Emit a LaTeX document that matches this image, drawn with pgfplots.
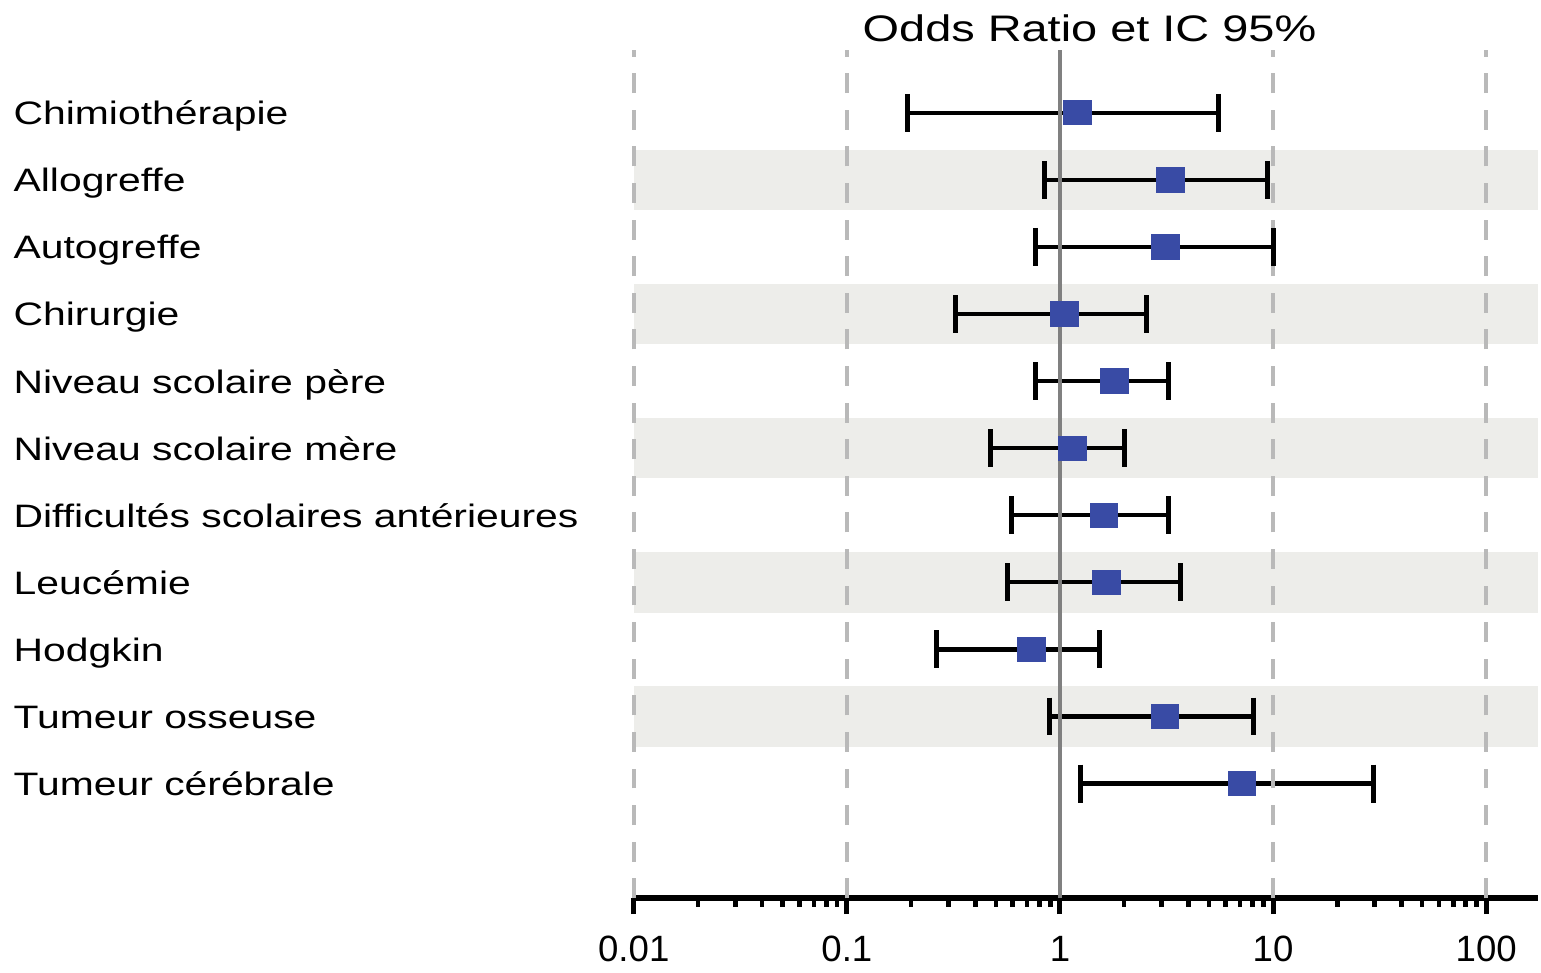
\documentclass[border=0pt]{standalone}
\usepackage{fontspec}
\setmainfont{Liberation Sans}
\newfontfamily\rowfont[FakeStretch=1.26]{Liberation Sans}
\newfontfamily\titlefont[FakeStretch=1.27]{Liberation Sans}
\usepackage{pgfplots}
\pgfplotsset{compat=1.18}
\definecolor{orblue}{RGB}{57,75,165}
\definecolor{bandgray}{RGB}{237,237,234}
\definecolor{dashgray}{RGB}{185,185,185}
\definecolor{refgray}{RGB}{128,128,128}

% odds ratio and 95% CI, row 1 = top
\pgfplotstableread{
row lo  or   hi
1  0.193 1.21 5.57
2  0.85  3.31 9.4
3  0.765 3.14 10.0
4  0.323 1.05 2.54
5  0.767 1.80 3.22
6  0.474 1.14 2.0
7  0.594 1.61 3.22
8  0.565 1.65 3.68
9  0.264 0.736 1.53
10 0.89  3.11 8.05
11 1.25  7.15 29.5
}\ortable

\begin{document}
\begin{tikzpicture}
\begin{axis}[
  scale only axis, width=271.8pt, height=255pt,
  xmode=log, xmin=0.01, xmax=175,
  ymin=0.0625, ymax=12.71, y dir=reverse,
  clip=false,
  axis x line*=bottom, axis y line*=left,
  x axis line style={line width=1.8pt, -},
  y axis line style={draw=none},
  xtick={0.01,0.1,1,10,100},
  xticklabels={0.01,0.1,1,10,100},
  minor xtick={0.02,0.03,0.04,0.05,0.06,0.07,0.08,0.09,
    0.2,0.3,0.4,0.5,0.6,0.7,0.8,0.9,2,3,4,5,6,7,8,9,
    20,30,40,50,60,70,80,90},
  tick align=outside,
  major tick length=4.8pt, minor tick length=2.5pt,
  x tick style={black, line width=1.5pt},
  minor x tick style={black, line width=1.4pt},
  x tick label style={font=\fontsize{11}{12}\selectfont, yshift=-3pt},
  ytick={1,...,11},
  yticklabels={Chimiothérapie, Allogreffe, Autogreffe, Chirurgie,
    Niveau scolaire père, Niveau scolaire mère,
    Difficultés scolaires antérieures, Leucémie, Hodgkin,
    Tumeur osseuse, Tumeur cérébrale},
  ytick style={draw=none},
  y tick label style={font=\rowfont\fontsize{9.75}{12}\selectfont,
    anchor=base west, inner sep=0pt, xshift=-181.8pt, yshift=-3.6pt},
  ci/.style={black, line width=1.3pt, mark=|, mark size=5.7pt,
    mark options={line width=1.5pt}, forget plot},
]
% shaded bands
\addplot[fill=bandgray, draw=none, forget plot] coordinates {(0.01,1.55)(175,1.55)(175,2.45)(0.01,2.45)} -- cycle;
\addplot[fill=bandgray, draw=none, forget plot] coordinates {(0.01,3.55)(175,3.55)(175,4.45)(0.01,4.45)} -- cycle;
\addplot[fill=bandgray, draw=none, forget plot] coordinates {(0.01,5.55)(175,5.55)(175,6.45)(0.01,6.45)} -- cycle;
\addplot[fill=bandgray, draw=none, forget plot] coordinates {(0.01,7.55)(175,7.55)(175,8.45)(0.01,8.45)} -- cycle;
\addplot[fill=bandgray, draw=none, forget plot] coordinates {(0.01,9.55)(175,9.55)(175,10.45)(0.01,10.45)} -- cycle;

% confidence intervals
\addplot[ci] coordinates {(0.193,1)(5.57,1)};
\addplot[ci] coordinates {(0.85,2)(9.4,2)};
\addplot[ci] coordinates {(0.765,3)(10.0,3)};
\addplot[ci] coordinates {(0.323,4)(2.54,4)};
\addplot[ci] coordinates {(0.767,5)(3.22,5)};
\addplot[ci] coordinates {(0.474,6)(2.0,6)};
\addplot[ci] coordinates {(0.594,7)(3.22,7)};
\addplot[ci] coordinates {(0.565,8)(3.68,8)};
\addplot[ci] coordinates {(0.264,9)(1.53,9)};
\addplot[ci] coordinates {(0.89,10)(8.05,10)};
\addplot[ci] coordinates {(1.25,11)(29.5,11)};

% odds ratios
\addplot[only marks, mark=square*, mark size=3.6pt, color=orblue,
  mark options={xscale=1.15}] table[x=or, y=row] {\ortable};

% reference lines
\addplot[dashgray, line width=1.2pt, dash pattern=on 6pt off 5pt, forget plot] coordinates {(0.01,12.71)(0.01,0.0625)};
\addplot[dashgray, line width=1.2pt, dash pattern=on 6pt off 5pt, forget plot] coordinates {(0.1,12.71)(0.1,0.0625)};
\addplot[dashgray, line width=1.2pt, dash pattern=on 6pt off 5pt, forget plot] coordinates {(10,12.71)(10,0.0625)};
\addplot[dashgray, line width=1.2pt, dash pattern=on 6pt off 5pt, forget plot] coordinates {(100,12.71)(100,0.0625)};
\addplot[refgray, line width=1.2pt, forget plot] coordinates {(1,12.71)(1,0.0625)};

\node[font=\titlefont\fontsize{11.1}{13}\selectfont] at (axis description cs:0.504,1.026) {Odds Ratio et IC 95\%};
\path (axis description cs:-0.7009,-0.0788) rectangle (axis description cs:1,1.0588);
\end{axis}
\end{tikzpicture}
\end{document}
